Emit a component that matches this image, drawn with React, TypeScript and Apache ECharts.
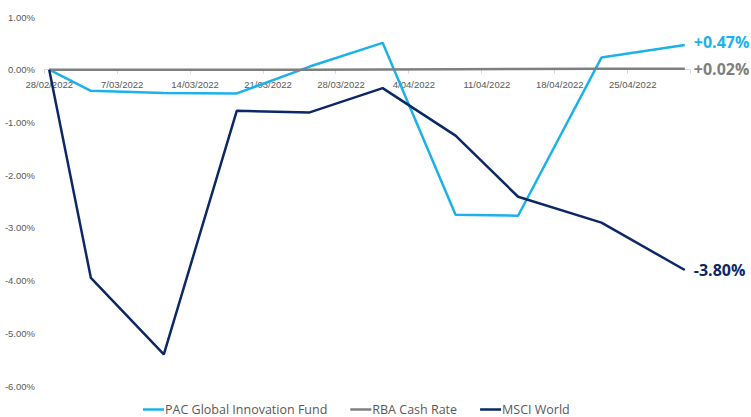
import React, { useEffect, useRef } from "react";
import * as echarts from "echarts";

// Data points (weekly observations)
const pointDates = [
  "28/02/2022", "4/03/2022", "11/03/2022", "18/03/2022", "25/03/2022",
  "1/04/2022", "8/04/2022", "14/04/2022", "22/04/2022", "30/04/2022",
];
const pacValues = [0, -0.4, -0.44, -0.45, 0.06, 0.51, -2.75, -2.77, 0.23, 0.47];
const rbaValues = [0, 0, 0, 0, 0, 0.005, 0.01, 0.015, 0.02, 0.02];
const msciValues = [0, -3.95, -5.4, -0.78, -0.81, -0.35, -1.25, -2.41, -2.9, -3.8];

const seriesNames = ["PAC Global Innovation Fund", "RBA Cash Rate", "MSCI World"];
const seriesColors = ["#1DB1EA", "#7F7F7F", "#0D2867"];
const endLabels = ["+0.47%", "+0.02%", "-3.80%"];

// Axis range: daily categories from 28/02/2022 to 30/04/2022
const axisStart = { y: 2022, m: 1, d: 28 };
const axisDays = 62;
const yTicks = { min: -6, max: 1, step: 1 };

function fmtDate(dt: Date) {
  const dd = dt.getUTCDate();
  const mm = String(dt.getUTCMonth() + 1).padStart(2, "0");
  return `${dd}/${mm}/${dt.getUTCFullYear()}`;
}

const GRID = { left: 44, right: 61, top: 17, bottom: 31 };
const H = 417;

export default function App() {
  const ref = useRef<HTMLDivElement>(null);
  useEffect(() => {
    if (!ref.current) return;
    const chart = echarts.init(ref.current, undefined, { renderer: "svg" });
    const categories: string[] = [];
    for (let i = 0; i < axisDays; i++) {
      const dt = new Date(Date.UTC(axisStart.y, axisStart.m, axisStart.d + i));
      categories.push(fmtDate(dt));
    }
    const build = (vals: number[]) =>
      categories.map((c) => {
        const k = pointDates.indexOf(c);
        return k >= 0 ? vals[k] : null;
      });
    const allVals = [pacValues, rbaValues, msciValues];
    const labelFont = "'Liberation Sans', Arial, sans-serif";
    const plotH = H - GRID.top - GRID.bottom;
    const zeroFromBottom = (plotH * (0 - yTicks.min)) / (yTicks.max - yTicks.min);
    chart.setOption({
      animation: false,
      grid: GRID,
      legend: {
        top: 398,
        left: 138,
        icon: "rect",
        itemWidth: 21,
        itemHeight: 2.5,
        itemGap: 23,
        textStyle: { color: "#595959", fontSize: 12.5, fontFamily: "'Open Sans', sans-serif", padding: [0, 0, 0, -4] },
        data: seriesNames,
      },
      xAxis: {
        type: "category",
        data: categories,
        boundaryGap: true,
        offset: -zeroFromBottom,
        axisLine: { onZero: false, lineStyle: { color: "#D9D9D9", width: 1 } },
        axisTick: { show: true, interval: 6, length: 4, lineStyle: { color: "#D9D9D9" } },
        axisLabel: {
          interval: 6,
          margin: 10,
          color: "#595959",
          fontSize: 9.5,
          fontFamily: labelFont,
        },
        splitLine: { show: false },
      },
      yAxis: {
        type: "value",
        min: yTicks.min,
        max: yTicks.max,
        interval: yTicks.step,
        axisLine: { show: false },
        axisTick: { show: false },
        splitLine: { show: false },
        axisLabel: {
          margin: 9,
          color: "#595959",
          fontSize: 9.5,
          fontFamily: labelFont,
          formatter: (v: number) => v.toFixed(2) + "%",
        },
      },
      series: seriesNames.map((name, i) => ({
        name,
        type: "line",
        data: build(allVals[i]),
        connectNulls: true,
        symbol: "none",
        z: 2 + i,
        lineStyle: { color: seriesColors[i], width: 2.5 },
        itemStyle: { color: seriesColors[i] },
        endLabel: {
          show: true,
          formatter: () => endLabels[i],
          color: seriesColors[i],
          fontSize: 16,
          fontWeight: "bold",
          fontFamily: "'Open Sans', sans-serif",
          distance: 9,
          offset: i === 0 ? [0, -3] : [0, 0],
        },
      })),
    });
    return () => chart.dispose();
  }, []);
  return <div ref={ref} style={{ width: 751, height: 417, position: "absolute", left: 0, top: 0 }} />;
}
